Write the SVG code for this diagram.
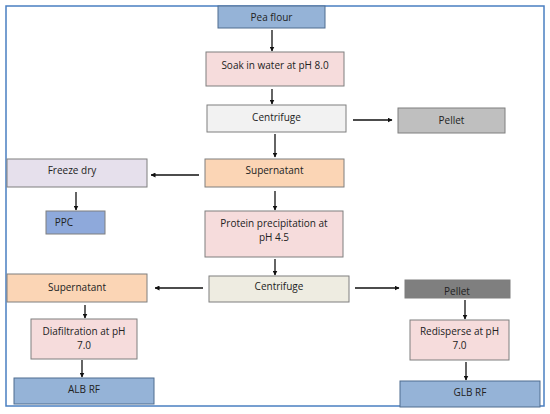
<svg xmlns="http://www.w3.org/2000/svg" width="550" height="414" viewBox="0 0 550 414">
<defs>
<marker id="ah" viewBox="0 0 10 10" refX="9" refY="5" markerWidth="5" markerHeight="5" orient="auto" markerUnits="userSpaceOnUse">
<path d="M0,0 L10,5 L0,10 z" fill="#111"/>
</marker>
</defs>
<style>
.n{stroke:#7f7f7f;stroke-width:1}
.b{fill:#95b3d7;stroke:#4f6d8f}
.pk{fill:#f6dcdc}
.gr{fill:#f2f2f2}
.or{fill:#fbd5b5}
.lv{fill:#e6e0ec}
.t{font-family:"Open Sans","Liberation Sans",sans-serif;font-size:10px;fill:#222;text-anchor:middle}
.c line{stroke:#111;stroke-width:1.3;marker-end:url(#ah)}
</style>
<rect x="6" y="6" width="538" height="400" fill="#fff" stroke="#4a7fc1" stroke-width="1.5"/>
<g id="pea"><rect class="n b" x="218" y="6" width="107" height="22"/><text class="t" x="271.5" y="20.5">Pea flour</text></g>
<g id="soak"><rect class="n pk" x="206" y="52" width="138" height="34"/><text class="t" x="275" y="69">Soak in water at pH 8.0</text></g>
<g id="cent1"><rect class="n gr" x="207" y="105" width="139" height="27"/><text class="t" x="276.5" y="121">Centrifuge</text></g>
<g id="pellet1"><rect class="n" fill="#bfbfbf" x="398" y="108" width="107" height="25"/><text class="t" x="451.5" y="124">Pellet</text></g>
<g id="super1"><rect class="n or" x="205" y="159" width="139" height="28"/><text class="t" x="274.5" y="174">Supernatant</text></g>
<g id="freeze"><rect class="n lv" x="7" y="159" width="140" height="28"/><text class="t" x="72" y="174">Freeze dry</text></g>
<g id="ppc"><rect class="n" fill="#8ea9db" stroke="#4f6d8f" x="46" y="211" width="59" height="23"/><text class="t" x="64" y="226">PPC</text></g>
<g id="precip"><rect class="n pk" x="205" y="211" width="138" height="46"/><text class="t" x="274" y="227">Protein precipitation at</text><text class="t" x="274" y="241">pH 4.5</text></g>
<g id="cent2"><rect class="n" fill="#eeece1" x="209" y="276" width="140" height="26"/><text class="t" x="279" y="290">Centrifuge</text></g>
<g id="super2"><rect class="n or" x="7" y="274" width="140" height="28"/><text class="t" x="77" y="291">Supernatant</text></g>
<g id="pellet2"><rect class="n" fill="#7f7f7f" stroke="#595959" x="405" y="280" width="105" height="18"/><text class="t" x="457" y="295">Pellet</text></g>
<g id="redis"><rect class="n pk" x="410" y="320" width="99" height="40"/><text class="t" x="459.5" y="335">Redisperse at pH</text><text class="t" x="459.5" y="349">7.0</text></g>
<g id="glb"><rect class="n b" x="400" y="381" width="140" height="26"/><text class="t" x="470" y="396">GLB RF</text></g>
<g id="dia"><rect class="n pk" x="31" y="319" width="106" height="40"/><text class="t" x="84" y="335">Diafiltration at pH</text><text class="t" x="84" y="349">7.0</text></g>
<g id="alb"><rect class="n b" x="14" y="378" width="140" height="26"/><text class="t" x="84" y="393">ALB RF</text></g>
<g class="c" id="connectors">
<line x1="272" y1="30" x2="272" y2="51"/>
<line x1="272" y1="89" x2="272" y2="104"/>
<line x1="353" y1="120" x2="392" y2="120"/>
<line x1="275" y1="134" x2="275" y2="157"/>
<line x1="199" y1="175" x2="151" y2="175"/>
<line x1="76" y1="192" x2="76" y2="210"/>
<line x1="275" y1="191" x2="275" y2="210"/>
<line x1="275" y1="259" x2="275" y2="275"/>
<line x1="203" y1="288" x2="155" y2="288"/>
<line x1="355" y1="288" x2="399" y2="288"/>
<line x1="465" y1="300" x2="465" y2="319"/>
<line x1="466" y1="362" x2="466" y2="380"/>
<line x1="85" y1="305" x2="85" y2="318"/>
<line x1="82" y1="360" x2="82" y2="377"/>
</g>
</svg>
